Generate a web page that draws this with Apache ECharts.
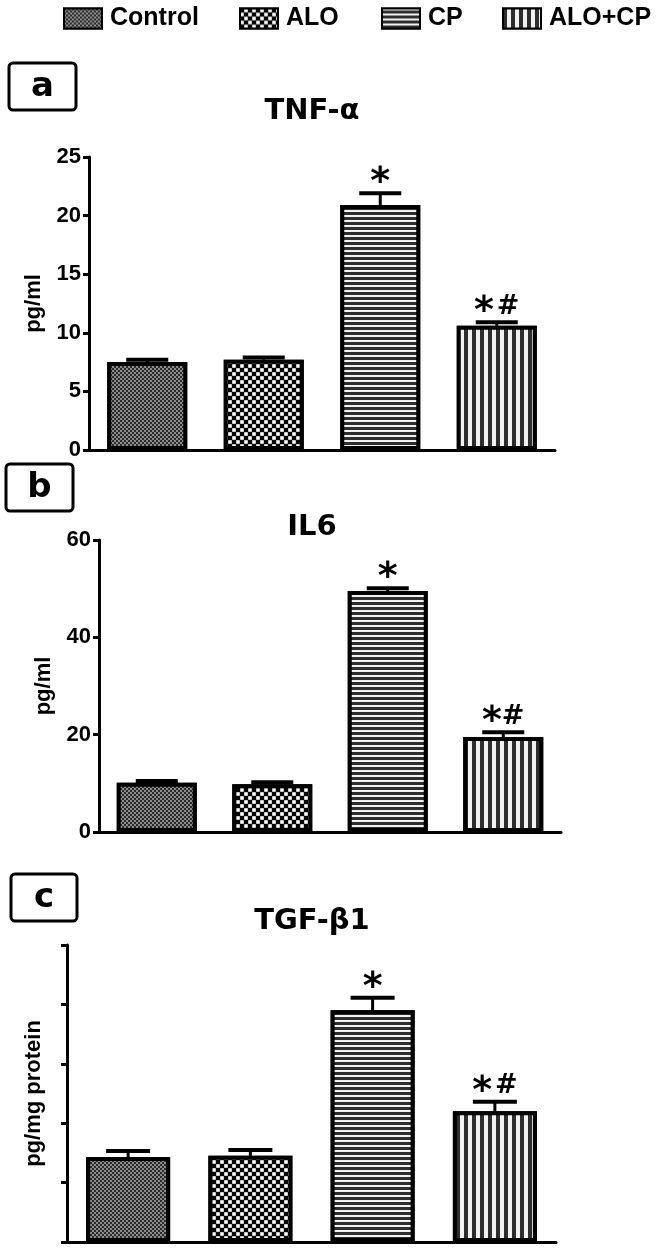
<!DOCTYPE html>
<html>
<head>
<meta charset="utf-8">
<script src="https://cdn.jsdelivr.net/npm/echarts@6/dist/echarts.min.js"></script>
<style>
html,body{margin:0;padding:0;background:#fff;}
#main{width:660px;height:1259px;}
</style>
</head>
<body>
<div id="main"></div>
<script>
// ---- data ----
const categories = ['Control', 'ALO', 'CP', 'ALO+CP'];
const tnfValues = [7.5, 7.7, 20.9, 10.6];
const tnfErrors = [0.2, 0.2, 1.0, 0.3];
const tnfSig = ['', '', '*', '* #'];
const il6Values = [10.1, 9.8, 49.5, 19.5];
const il6Errors = [0.4, 0.4, 0.6, 1.0];
const il6Sig = ['', '', '*', '*#'];
const tgfValues = [1.43, 1.45, 3.9, 2.2];
const tgfErrors = [0.1, 0.1, 0.21, 0.16];
const tgfSig = ['', '', '*', '* #'];
const tnfTicks = {min: 0, max: 25, interval: 5};
const il6Ticks = {min: 0, max: 60, interval: 20};
const tgfTicks = {min: 0, max: 5, interval: 1};

// ---- styles ----
const decals = [
  {symbol: 'rect', symbolSize: 1, color: '#8c8c8c', backgroundColor: '#2b2b2b',
   dashArrayX: [[2, 2], [0, 2, 2, 0]], dashArrayY: [2, 0]},
  {symbol: 'rect', symbolSize: 0.9, color: '#ffffff', backgroundColor: '#050505',
   dashArrayX: [[3.5, 3.5], [0, 3.5, 3.5, 0]], dashArrayY: [3.5, 0]},
  {symbol: 'rect', symbolSize: 1, color: '#f2f2f2', backgroundColor: '#2e2e2e',
   dashArrayX: [1, 0], dashArrayY: [2, 3]},
  {symbol: 'rect', symbolSize: 1, color: '#f2f2f2', backgroundColor: '#2e2e2e',
   dashArrayX: [1, 0], dashArrayY: [4, 4], rotation: Math.PI / 2}
];

const panels = [
  {values: tnfValues, errors: tnfErrors, sig: tnfSig, ticks: tnfTicks, name: 'pg/ml',
   grid: {left: 89, right: 105, top: 157, height: 293}, barWidth: 80, showLabels: true, capW: 42},
  {values: il6Values, errors: il6Errors, sig: il6Sig, ticks: il6Ticks, name: 'pg/ml',
   grid: {left: 99, right: 99, top: 540, height: 292}, barWidth: 80, showLabels: true, capW: 42},
  {values: tgfValues, errors: tgfErrors, sig: tgfSig, ticks: tgfTicks, name: 'pg/mg protein',
   grid: {left: 67, right: 104, top: 945, height: 297}, barWidth: 84, showLabels: false, capW: 44}
];

const labelFont = '"Liberation Sans", Arial, sans-serif';
const titleFont = '"DejaVu Sans", Verdana, sans-serif';

const grids = [], xAxes = [], yAxes = [], series = [];
panels.forEach((p, pi) => {
  grids.push(Object.assign({containLabel: false}, p.grid));
  xAxes.push({
    type: 'category', gridIndex: pi, data: categories,
    axisLine: {lineStyle: {color: '#000', width: 3}},
    axisTick: pi < 2 ? {alignWithLabel: true, length: 7, lineStyle: {width: 3, color: '#000'}}
                     : {alignWithLabel: false, length: 10, interval: (i) => i === 2, lineStyle: {width: 3, color: '#000'}},
    axisLabel: {show: false},
    splitLine: {show: false}
  });
  yAxes.push({
    type: 'value', gridIndex: pi, min: p.ticks.min, max: p.ticks.max, interval: p.ticks.interval,
    name: p.name, nameLocation: 'middle', nameRotate: 90, nameGap: pi === 2 ? 22 : 44,
    nameTextStyle: {fontFamily: labelFont, fontWeight: 'bold', fontSize: 22, color: '#000'},
    axisLine: {show: true, lineStyle: {color: '#000', width: 3}},
    axisTick: {show: true, length: 6, lineStyle: {width: 3, color: '#000'}},
    axisLabel: {show: p.showLabels, fontFamily: labelFont, fontWeight: 'bold', fontSize: 22, color: '#000', margin: 8},
    splitLine: {show: false}
  });
  categories.forEach((c, ci) => {
    series.push({
      name: c, type: 'bar', xAxisIndex: pi, yAxisIndex: pi,
      barWidth: p.barWidth, barGap: '-100%',
      data: p.values.map((v, k) => (k === ci ? v : '-')),
      itemStyle: {color: '#333', borderColor: '#000', borderWidth: 4, decal: decals[ci]},
      emphasis: {disabled: true},
      z: 2
    });
  });
  series.push({
    type: 'custom', xAxisIndex: pi, yAxisIndex: pi, z: 5,
    data: p.values.map((v, k) => [k, v, p.errors[k]]),
    encode: {x: 0, y: 1},
    renderItem: function (params, api) {
      const idx = api.value(0), v = api.value(1), e = api.value(2);
      const base = api.coord([idx, v]);
      const top = api.coord([idx, v + e]);
      const children = [
        {type: 'line', shape: {x1: base[0], y1: base[1], x2: top[0], y2: top[1]},
         style: {stroke: '#000', lineWidth: 3}},
        {type: 'line', shape: {x1: top[0] - p.capW / 2, y1: top[1], x2: top[0] + p.capW / 2, y2: top[1]},
         style: {stroke: '#000', lineWidth: 4}}
      ];
      const s = p.sig[idx];
      if (s) {
        const rich = s.replace(/\*/g, '{s|*}').replace(/#/g, '{h|#}').replace(/ /g, '{g| }');
        children.push({type: 'text', x: top[0], y: top[1] + 1,
          style: {text: rich, align: 'center', verticalAlign: 'bottom', fill: '#000',
                  rich: {
                    s: {fontFamily: titleFont, fontWeight: 'bold', fontSize: 38, lineHeight: 30,
                        verticalAlign: 'top', fill: '#000'},
                    h: {fontFamily: titleFont, fontWeight: 'bold', fontSize: 27, lineHeight: 30,
                        verticalAlign: 'top', padding: [0, 0, 0, 0], fill: '#000'},
                    g: {fontSize: 10, lineHeight: 30}
                  }}});
      }
      return {type: 'group', children: children};
    }
  });
});

const titles = [
  {text: 'TNF-α', top: 97},
  {text: 'IL6', top: 513},
  {text: 'TGF-β1', top: 907}
].map(t => ({text: t.text, left: 312, top: t.top, textAlign: 'center', padding: 0,
  textStyle: {fontFamily: titleFont, fontWeight: 'bold', fontSize: 29, color: '#000'}}));

function panelBox(letter, x, y, w, h) {
  return {type: 'group', x: x, y: y, children: [
    {type: 'rect', shape: {x: 0, y: 0, width: w, height: h, r: 4},
     style: {fill: '#fff', stroke: '#000', lineWidth: 3}},
    {type: 'text', x: w / 2, y: h / 2 + 1,
     style: {text: letter, fontFamily: titleFont, fontWeight: 'bold', fontSize: 34, fill: '#000',
             align: 'center', verticalAlign: 'middle'}}
  ]};
}

const legendLefts = [63, 239, 381, 502];
const legends = categories.map((c, i) => ({
  data: [c], left: legendLefts[i], top: 6, padding: 0, itemWidth: 38, itemHeight: 20,
  icon: 'rect', selectedMode: false,
  itemStyle: {borderColor: '#000', borderWidth: 2},
  textStyle: {fontFamily: labelFont, fontWeight: 'bold', fontSize: 25, color: '#000', padding: [0, 0, 0, 3]}
}));

const chart = echarts.init(document.getElementById('main'), null, {renderer: 'canvas'});
chart.setOption({
  animation: false,
  backgroundColor: '#fff',
  title: titles,
  legend: legends,
  grid: grids, xAxis: xAxes, yAxis: yAxes, series: series,
  graphic: [
    panelBox('a', 9, 63, 67, 47),
    panelBox('b', 6, 464, 67, 47),
    panelBox('c', 11, 874, 66, 47)
  ]
});
</script>
</body>
</html>
